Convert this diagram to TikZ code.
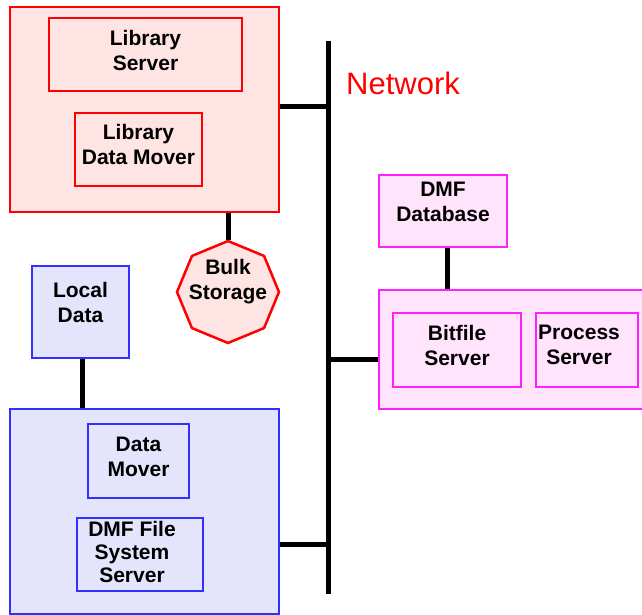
\documentclass[tikz,border=0pt]{standalone}
\usepackage{fontspec}
\setmainfont{Liberation Sans}
\usetikzlibrary{shapes.geometric}
\definecolor{pinkfill}{HTML}{FFE4E4}
\definecolor{magfill}{HTML}{FFE4FC}
\definecolor{magline}{HTML}{FF20FF}
\definecolor{bluefill}{HTML}{E4E4FC}
\definecolor{blueline}{HTML}{3030FF}
\tikzset{
  txt/.style={font=\bfseries\fontsize{21}{25}\selectfont, align=center, text=black},
  rbox/.style={draw=red, fill=pinkfill, line width=1.5pt, inner sep=0pt},
  mbox/.style={draw=magline, fill=magfill, line width=1.5pt, inner sep=0pt},
  bbox/.style={draw=blueline, fill=bluefill, line width=1.5pt, inner sep=0pt},
  tl/.style 2 args={label={[txt, anchor=north, inner sep=0pt, yshift=-#1]north:{#2}}},
  bus/.style={line width=5pt, black},
}
\begin{document}
\begin{tikzpicture}[x=1pt,y=-1pt]
\clip (0,0) rectangle (642,615);
\fill[white] (0,0) rectangle (642,615);
% network backbone
\coordinate (nt) at (328,41);
\coordinate (nb) at (328,594);
\draw[bus] (nt) -- (nb);
\node[text=red, font=\fontsize{31}{36}\selectfont, anchor=base, inner sep=0pt] (netlbl) at (403,95) {Network};

% library side
\node[rbox, minimum width=269pt, minimum height=205pt] (lib) at (144.5,109.5) {};
\node[rbox, minimum width=193pt, minimum height=73pt, tl={13pt}{Library\\Server}] (libsrv) at (145.5,54.5) {};
\node[rbox, minimum width=127pt, minimum height=73pt, tl={11.5pt}{Library\\Data Mover}] (libdm) at (138.5,149.5) {};
\node[draw=red, fill=pinkfill, line width=2.5pt, regular polygon, regular polygon sides=8,
      shape border rotate=22.5, minimum size=102pt, inner sep=0pt,
      tl={19.5pt}{Bulk\\Storage}] (bulk) at (228,292) {};

% DMF side
\node[mbox, minimum width=128pt, minimum height=72pt, tl={7.5pt}{DMF\\Database}] (dmfdb) at (443,211) {};
\node[mbox, minimum width=266pt, minimum height=119pt] (dmf) at (512,349.5) {};
\node[mbox, minimum width=128pt, minimum height=74pt, tl={12.5pt}{Bitfile\\Server}] (bitfile) at (457,350) {};
\node[mbox, minimum width=102pt, minimum height=74pt,
      label={[txt, anchor=north, inner sep=0pt, yshift=-13pt, xshift=-8pt]north:{Process\\Server}}] (process) at (587,350) {};

% client side
\node[bbox, minimum width=97pt, minimum height=92pt, tl={17pt}{Local\\Data}] (local) at (80.5,312) {};
\node[bbox, minimum width=269pt, minimum height=205pt] (client) at (144.5,511.5) {};
\node[bbox, minimum width=101pt, minimum height=74pt, tl={13.5pt}{Data\\Mover}] (dm) at (138.5,461) {};
\node[bbox, minimum width=126pt, minimum height=73pt,
      label={[font=\bfseries\fontsize{21}{23}\selectfont, align=center, anchor=north, inner sep=0pt, yshift=-4pt, xshift=-8pt]north:{DMF File\\System\\Server}}] (fs) at (140,554.5) {};

% connectors
\draw[bus] ([yshift=2.5pt]lib.east) -- ([yshift=2.5pt]lib.east -| nt);
\draw[bus] (bulk.north |- lib.south) -- (bulk.north);
\draw[bus] ([xshift=4pt]dmfdb.south) -- ([xshift=4pt]dmfdb.south |- dmf.north);
\draw[bus] ([yshift=-9.5pt]dmf.west) -- ([yshift=-9.5pt]dmf.west -| nt);
\draw[bus] ([xshift=1.5pt]local.south) -- ([xshift=1.5pt]local.south |- client.north);
\draw[bus] ([yshift=-32.5pt]client.east) -- ([yshift=-32.5pt]client.east -| nt);
\end{tikzpicture}
\end{document}
